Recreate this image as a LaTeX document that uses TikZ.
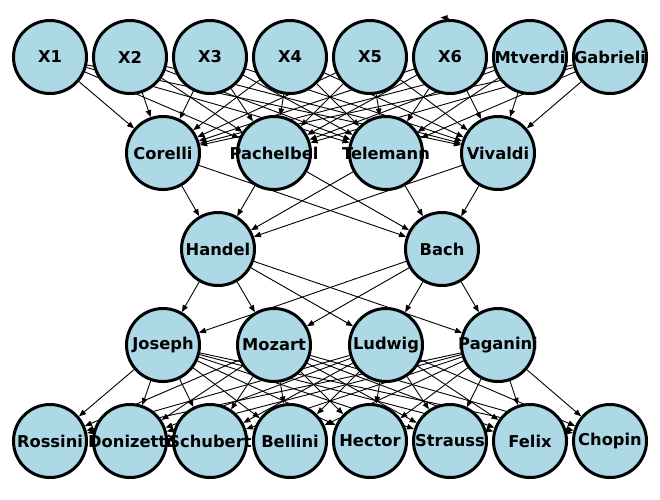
\documentclass[tikz,border=0pt]{standalone}
\usepackage{fontspec}
\setmainfont{DejaVu Sans}
\usetikzlibrary{arrows.meta}
\pgfdeclarelayer{background}
\pgfsetlayers{background,main}
\definecolor{nodeblue}{RGB}{173,216,230}
\tikzset{
  vtx/.style={circle, draw=black, line width=3pt, fill=nodeblue, minimum size=73pt, inner sep=0pt},
  vlabel/.style={font=\fontsize{16.3}{19}\selectfont\bfseries, text=black, inner sep=0pt},
  arr/.style={line width=0.9pt, -{Triangle[length=7pt,width=5.5pt]}}
}
\newcommand{\vnode}[4]{\node[vtx, label={[vlabel]center:#4}] (#1) at (#2,#3) {};}
\begin{document}
\begin{tikzpicture}[x=1pt,y=-1pt]
\useasboundingbox (0,0) rectangle (660,499);
% row 1
\vnode{X1}{50}{57}{X1}
\vnode{X2}{130}{57}{X2}
\vnode{X3}{210}{57}{X3}
\vnode{X4}{290}{57}{X4}
\vnode{X5}{370}{57}{X5}
\vnode{X6}{450}{57}{X6}
\vnode{Mtverdi}{530}{57}{Mtverdi}
\vnode{Gabrieli}{610}{57}{Gabrieli}
% row 2
\vnode{Corelli}{163}{153}{Corelli}
\vnode{Pachelbel}{274}{153}{Pachelbel}
\vnode{Telemann}{386}{153}{Telemann}
\vnode{Vivaldi}{498}{153}{Vivaldi}
% row 3
\vnode{Handel}{218}{249}{Handel}
\vnode{Bach}{442}{249}{Bach}
% row 4
\vnode{Joseph}{163}{345}{Joseph}
\vnode{Mozart}{274}{345}{Mozart}
\vnode{Ludwig}{386}{345}{Ludwig}
\vnode{Paganini}{498}{345}{Paganini}
% row 5
\vnode{Rossini}{50}{441}{Rossini}
\vnode{Donizetti}{130}{441}{Donizetti}
\vnode{Schubert}{210}{441}{Schubert}
\vnode{Bellini}{290}{441}{Bellini}
\vnode{Hector}{370}{441}{Hector}
\vnode{Strauss}{450}{441}{Strauss}
\vnode{Felix}{530}{441}{Felix}
\vnode{Chopin}{610}{441}{Chopin}
\coordinate (loopend) at (440.5,17.5);
\begin{pgfonlayer}{background}
\foreach \a in {X1,X2,X3,X4,X5,X6,Mtverdi,Gabrieli}
  \foreach \b in {Corelli,Pachelbel,Telemann,Vivaldi}
    \draw[arr] (\a) -- (\b);
\foreach \a in {Corelli,Pachelbel,Telemann,Vivaldi}
  \foreach \b in {Handel,Bach}
    \draw[arr] (\a) -- (\b);
\foreach \a in {Handel,Bach}
  \foreach \b in {Joseph,Mozart,Ludwig,Paganini}
    \draw[arr] (\a) -- (\b);
\foreach \a in {Joseph,Mozart,Ludwig,Paganini}
  \foreach \b in {Rossini,Donizetti,Schubert,Bellini,Hector,Strauss,Felix,Chopin}
    \draw[arr] (\a) -- (\b);
\draw[arr] (X6.center) .. controls (449,18) .. (loopend);
\end{pgfonlayer}
\end{tikzpicture}
\end{document}
